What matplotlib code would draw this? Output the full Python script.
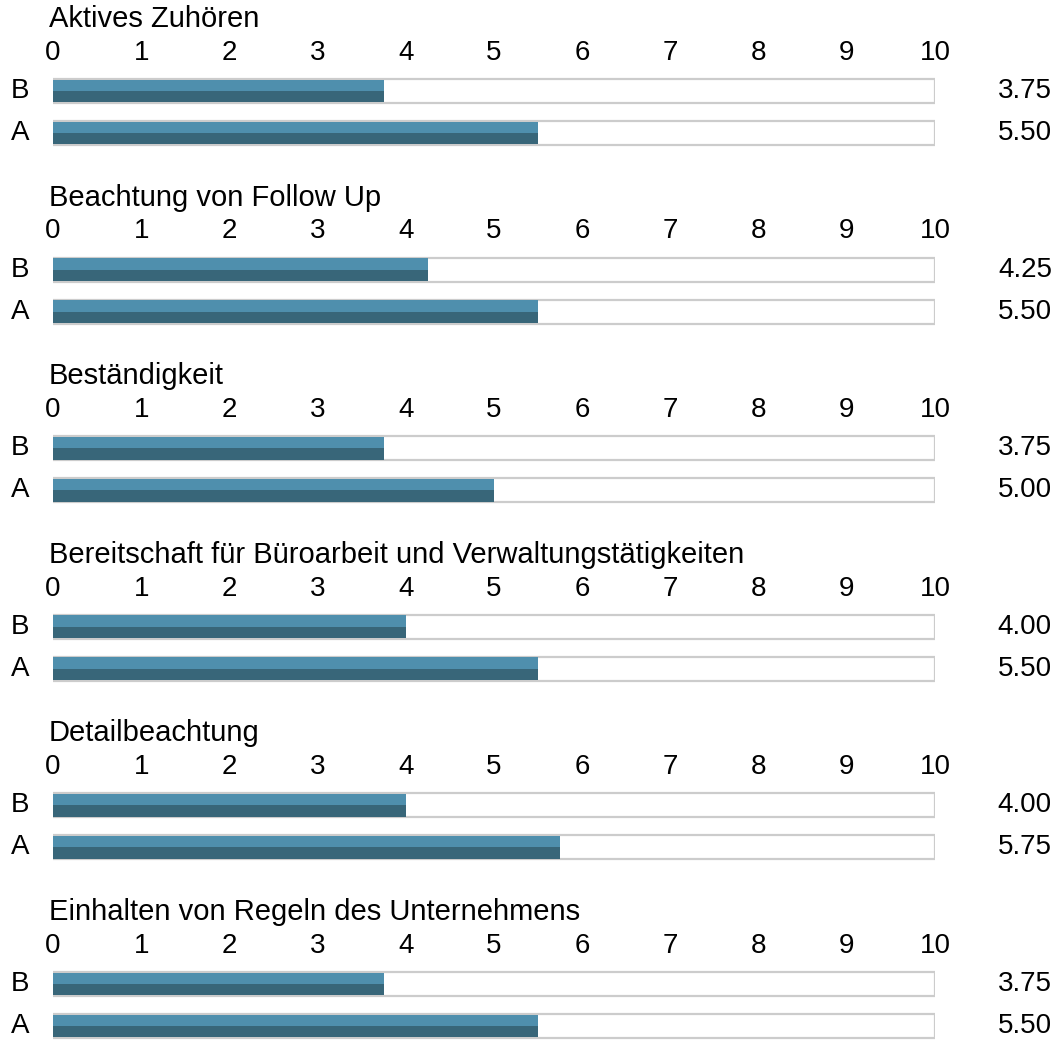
import matplotlib.pyplot as plt
import matplotlib.transforms as mtransforms

plt.rcParams['font.family'] = ['Liberation Sans', 'DejaVu Sans']

titles = ['Aktives Zuhören', 'Beachtung von Follow Up', 'Beständigkeit',
          'Bereitschaft für Büroarbeit und Verwaltungstätigkeiten',
          'Detailbeachtung', 'Einhalten von Regeln des Unternehmens']
rows = ['A', 'B']
vals_a = [5.50, 5.50, 5.00, 5.50, 5.75, 5.50]
vals_b = [3.75, 4.25, 3.75, 4.00, 4.00, 3.75]
xmax = 10
ticks = list(range(0, 11))

light = '#4f8fad'
dark = '#386679'
edge = '#cccccc'
fs = 20

W, H = 1057, 1055
fig = plt.figure(figsize=(W / 100, H / 100), dpi=100)

for i, t in enumerate(titles):
    top = 70 + 178.6 * i
    ax = fig.add_axes([53 / W, 1 - (top + 84) / H, 882 / W, 84 / H])
    fig_y = mtransforms.blended_transform_factory(fig.transFigure, ax.transData)
    vals = [vals_a[i], vals_b[i]]
    for y, v in enumerate(vals):
        ax.barh(y, xmax, height=0.57, color='white', edgecolor=edge, linewidth=1.6)
        ax.barh(y + 0.135, v, height=0.27, color=light)
        ax.barh(y - 0.135, v, height=0.27, color=dark)
        ax.text(1052 / W, y, '%.2f' % v, transform=fig_y,
                ha='right', va='center', fontsize=fs)
        ax.text(20 / W, y, rows[y], transform=fig_y,
                ha='center', va='center', fontsize=fs)
    ax.set_xlim(0, xmax)
    ax.set_ylim(-0.5, 1.5)
    ax.xaxis.tick_top()
    ax.set_xticks(ticks)
    ax.tick_params(axis='x', length=0, labelsize=fs, pad=3)
    ax.set_yticks([])
    for s in ax.spines.values():
        s.set_visible(False)
    ax.text(-4 / 882, 1 + 51 / 84, t, transform=ax.transAxes,
            ha='left', va='center', fontsize=21)

fig.savefig('out.png', dpi=100)
